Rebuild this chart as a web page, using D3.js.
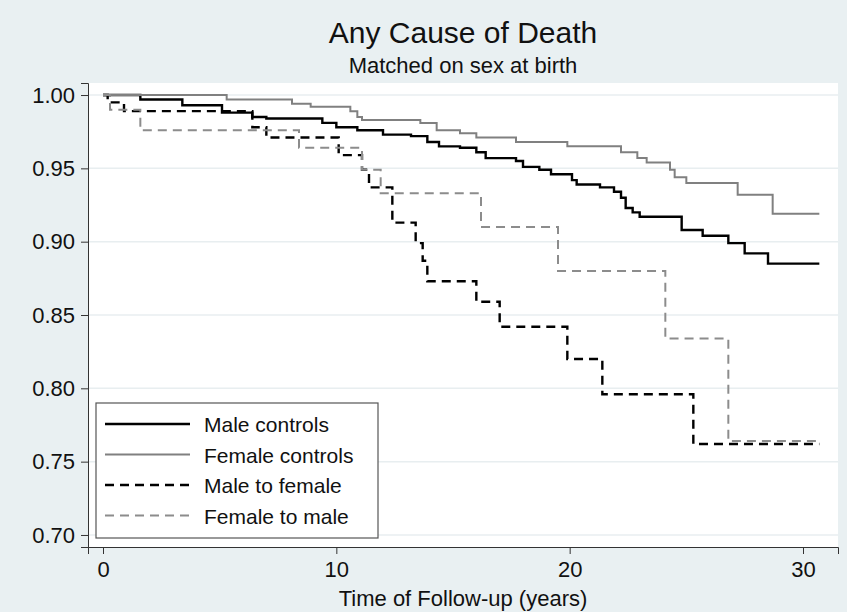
<!DOCTYPE html>
<html><head><meta charset="utf-8">
<script src="https://cdn.jsdelivr.net/npm/d3@7"></script>
<style>body{margin:0;background:#e9f0f2}svg{display:block;font-family:"Liberation Sans",Arial,sans-serif}</style>
</head><body><svg id="c" width="847" height="612"></svg>
<script>
const maleControls = [[0,1],[1.6,0.997],[3.4,0.993],[5.1,0.988],[6.4,0.985],[7,0.984],[9.4,0.981],[10,0.978],[10.9,0.976],[12,0.973],[13.2,0.972],[13.9,0.968],[14.4,0.965],[15.3,0.964],[16,0.961],[16.4,0.957],[17.7,0.955],[18,0.951],[18.7,0.949],[19.2,0.946],[20.1,0.942],[20.3,0.939],[21.3,0.937],[21.9,0.934],[22.2,0.930],[22.4,0.923],[22.7,0.920],[23,0.917],[24.8,0.908],[25.7,0.904],[26.8,0.899],[27.5,0.892],[28.5,0.885],[30.7,0.885]];
const femaleControls = [[0,1],[5.3,0.997],[8.1,0.994],[8.9,0.992],[10.6,0.989],[10.9,0.985],[11.1,0.983],[13.6,0.981],[14.3,0.976],[15.3,0.974],[16,0.971],[17.7,0.968],[19.9,0.965],[22.2,0.961],[22.9,0.957],[23.3,0.954],[24.3,0.949],[24.5,0.944],[25,0.940],[27.2,0.932],[28.7,0.919],[30.7,0.919]];
const maleToFemale = [[0,1],[0.2,0.995],[0.9,0.989],[6.4,0.978],[7,0.971],[10.1,0.959],[11.1,0.949],[11.4,0.937],[12.4,0.913],[13.4,0.899],[13.7,0.887],[13.9,0.873],[16,0.859],[17,0.842],[19.9,0.820],[21.4,0.796],[25.3,0.762],[30.7,0.762]];
const femaleToMale = [[0,1],[0.3,0.99],[1.6,0.976],[8.4,0.964],[11.1,0.949],[11.9,0.933],[16.2,0.910],[19.5,0.880],[24.1,0.834],[26.8,0.764],[30.7,0.764]];
const xTicks = [0,10,20,30];
const yTicks = [0.70,0.75,0.80,0.85,0.90,0.95,1.00];
const series = [
 {name:"Male controls", data:maleControls, color:"#000", width:2.4, dash:null},
 {name:"Female controls", data:femaleControls, color:"#808080", width:2, dash:null},
 {name:"Male to female", data:maleToFemale, color:"#000", width:2.4, dash:"9,6"},
 {name:"Female to male", data:femaleToMale, color:"#8c8c8c", width:2, dash:"9,6"}
];
const svg = d3.select("#c");
const L=88,R=838,T=83,B=547;
const x = d3.scaleLinear().domain([-0.643,31.5]).range([L,R]);
const y = d3.scaleLinear().domain([0.6918,1.0082]).range([B,T]);
svg.append("rect").attr("x",L).attr("y",T).attr("width",R-L).attr("height",B-T).attr("fill","#fff");
svg.append("g").selectAll("line").data(yTicks).join("line")
 .attr("x1",L).attr("x2",R).attr("y1",d=>y(d)).attr("y2",d=>y(d)).attr("stroke","#e8eef0").attr("stroke-width",1.5);
const line = d3.line().x(d=>x(d[0])).y(d=>y(d[1])).curve(d3.curveStepAfter);
series.forEach(s=>{
 svg.append("path").attr("d",line(s.data)).attr("fill","none").attr("stroke",s.color)
  .attr("stroke-width",s.width).attr("stroke-dasharray",s.dash);
});
const ax = svg.append("g").attr("transform",`translate(0,${B})`).call(d3.axisBottom(x).tickValues(xTicks).tickSize(7).tickPadding(7).tickFormat(d3.format("d")));
const ay = svg.append("g").attr("transform",`translate(${L},0)`).call(d3.axisLeft(y).tickValues(yTicks).tickSize(7).tickPadding(6).tickFormat(d3.format(".2f")));
[ax,ay].forEach(a=>{a.attr("font-size",22).attr("font-family","Liberation Sans, Arial, sans-serif");
 a.select(".domain").attr("stroke","#333");a.selectAll(".tick line").attr("stroke","#333");
 a.selectAll("text").attr("fill","#111");});
svg.append("text").attr("x",463).attr("y",43).attr("text-anchor","middle").attr("font-size",30).attr("fill","#111").text("Any Cause of Death");
svg.append("text").attr("x",463).attr("y",73).attr("text-anchor","middle").attr("font-size",22).attr("fill","#111").text("Matched on sex at birth");
svg.append("text").attr("x",463).attr("y",606).attr("text-anchor","middle").attr("font-size",22).attr("fill","#111").text("Time of Follow-up (years)");
const lg = svg.append("g");
lg.append("rect").attr("x",96).attr("y",403).attr("width",282).attr("height",135).attr("fill","#fff").attr("stroke","#555").attr("stroke-width",1.2);
series.forEach((s,i)=>{
 const yy = 424 + i*30.5;
 lg.append("line").attr("x1",105).attr("x2",190).attr("y1",yy).attr("y2",yy).attr("stroke",s.color).attr("stroke-width",s.width).attr("stroke-dasharray",s.dash);
 lg.append("text").attr("x",204).attr("y",yy+8).attr("font-size",21).attr("fill","#111").text(s.name);
});
</script></body></html>
